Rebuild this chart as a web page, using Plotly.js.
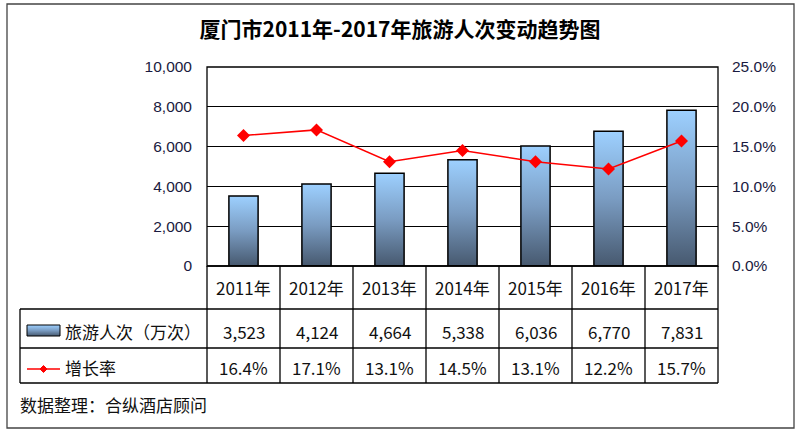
<!DOCTYPE html>
<html><head><meta charset="utf-8">
<script src="https://cdn.plot.ly/plotly-3.0.1.min.js"></script>
<style>html,body{margin:0;padding:0;background:#fff}#chart{width:800px;height:434px}</style>
</head><body><div id="chart"></div>
<script>
const years = ['2011年','2012年','2013年','2014年','2015年','2016年','2017年'];
const visitors = [3523, 4124, 4664, 5338, 6036, 6770, 7831];
const growth = [0.164, 0.171, 0.131, 0.145, 0.131, 0.122, 0.157];
const seriesNames = ['旅游人次（万次）', '增长率'];
const titleText = '厦门市2011年-2017年旅游人次变动趋势图';
const sourceText = '数据整理：合纵酒店顾问';

const cjk = '"Microsoft YaHei","Noto Sans CJK SC",sans-serif';
const W = 800, H = 434, L = 207, R = 82, T = 67, B = 168;
const pw = W - L - R, ph = H - T - B;
const px = x => (x - L) / pw;          // pixel x -> paper
const py = y => (H - B - y) / ph;      // pixel y -> paper

const rowY = [266, 309, 348, 383];
const colL = 20, colR = 718;

const shapes = [];
const line = (x0,y0,x1,y1,w,c) => shapes.push({type:'line',xref:'paper',yref:'paper',x0:px(x0),y0:py(y0),x1:px(x1),y1:py(y1),line:{color:c||'#000',width:w||1.3}});
// outer frame
shapes.push({type:'rect',xref:'paper',yref:'paper',x0:px(7),y0:py(4),x1:px(794),y1:py(428),line:{color:'#444',width:1.3}});
// plot border
shapes.push({type:'rect',xref:'paper',yref:'paper',x0:0,y0:0,x1:1,y1:1,line:{color:'#000',width:1.3}});
// table horizontal lines
line(L, rowY[0], colR, rowY[0]);
line(colL, rowY[1], colR, rowY[1]);
line(colL, rowY[2], colR, rowY[2]);
line(colL, rowY[3], colR, rowY[3]);
// table vertical lines
line(colL, rowY[1], colL, rowY[3]);
for (let i = 0; i <= years.length; i++) {
  const x = L + i * pw / years.length;
  line(x, rowY[0], x, rowY[3]);
}
// legend keys
shapes.push({type:'rect',xref:'paper',yref:'paper',x0:px(27),y0:py(325),x1:px(60),y1:py(336),fillcolor:'#7593b3',line:{color:'#000',width:1},name:'legendbar'});
line(27, 369, 60, 369, 1.3, '#ff0000');
const dx = 3.5/pw, dy = 3.5/ph, cx = px(43.5), cy = py(369);
shapes.push({type:'path',xref:'paper',yref:'paper',path:`M ${cx-dx} ${cy} L ${cx} ${cy+dy} L ${cx+dx} ${cy} L ${cx} ${cy-dy} Z`,fillcolor:'#ff0000',line:{color:'#ff0000',width:1}});

const annotations = [];
const tFont = {family: cjk, size: 17, color: '#111'};
const rowC = [287, 331, 367];
years.forEach((yr, i) => {
  annotations.push({xref:'x',yref:'paper',x:yr,y:py(rowC[0]),yanchor:'middle',text:yr,showarrow:false,font:tFont});
  annotations.push({xref:'x',yref:'paper',x:yr,y:py(rowC[1]),yanchor:'middle',text:visitors[i].toLocaleString('en-US'),showarrow:false,font:tFont});
  annotations.push({xref:'x',yref:'paper',x:yr,y:py(rowC[2]),yanchor:'middle',text:(growth[i]*100).toFixed(1)+'%',showarrow:false,font:tFont});
});
annotations.push({xref:'paper',yref:'paper',x:px(63),y:py(rowC[1]),xanchor:'left',yanchor:'middle',text:seriesNames[0],showarrow:false,font:tFont});
annotations.push({xref:'paper',yref:'paper',x:px(63),y:py(rowC[2]),xanchor:'left',yanchor:'middle',text:seriesNames[1],showarrow:false,font:tFont});
annotations.push({xref:'paper',yref:'paper',x:px(18),y:py(404),xanchor:'left',yanchor:'middle',text:sourceText,showarrow:false,font:tFont});

const data = [
  {type:'bar', x: years, y: visitors, name: seriesNames[0], marker:{color:'#7593b3', line:{color:'#000', width:1.5}}, hoverinfo:'skip'},
  {type:'scatter', mode:'lines+markers', x: years, y: growth, yaxis:'y2', name: seriesNames[1],
   line:{color:'#ff0000', width:1.5}, marker:{symbol:'diamond', size:10, color:'#ff0000'}, hoverinfo:'skip'}
];

const tickFont = {family:'Arial, "Liberation Sans", sans-serif', size:15.5, color:'#1a1a40'};
const layout = {
  width: W, height: H,
  margin: {l: L, r: R, t: T, b: B},
  paper_bgcolor: '#fff', plot_bgcolor: '#fff',
  showlegend: false,
  bargap: 0.6,
  title: {text: '<b>' + titleText + '</b>', x: 0.5, xanchor:'center', y: 1 - 30/H, yanchor:'middle',
          font: {family: '"SimHei","Noto Sans CJK SC",sans-serif', size: 21, color: '#000'}},
  xaxis: {type:'category', showticklabels:false, showgrid:false, zeroline:false, ticks:'', fixedrange:true},
  yaxis: {range:[0,10000], dtick:2000, tickformat:',d', showgrid:true, gridcolor:'#000', gridwidth:1.2,
          zeroline:false, ticks:'', ticklabelstandoff: 14, tickfont: tickFont},
  yaxis2: {range:[0,0.25], dtick:0.05, tickformat:'.1%', overlaying:'y', side:'right', showgrid:false,
           zeroline:false, ticks:'', ticklabelstandoff: 13, tickfont: tickFont},
  shapes, annotations
};

Plotly.newPlot('chart', data, layout, {staticPlot:true}).then(gd => {
  const svg = gd.querySelector('.main-svg');
  const ns = 'http://www.w3.org/2000/svg';
  let defs = svg.querySelector('defs');
  if (!defs) { defs = document.createElementNS(ns,'defs'); svg.insertBefore(defs, svg.firstChild); }
  const g = document.createElementNS(ns,'linearGradient');
  g.setAttribute('id','barGrad'); g.setAttribute('x1','0'); g.setAttribute('y1','0'); g.setAttribute('x2','0'); g.setAttribute('y2','1');
  [['0%','#9dd0ff'],['50%','#7a9cc2'],['100%','#47596f']].forEach(([o,c]) => {
    const s = document.createElementNS(ns,'stop'); s.setAttribute('offset',o); s.setAttribute('stop-color',c); g.appendChild(s);
  });
  defs.appendChild(g);
  gd.querySelectorAll('.barlayer .point path').forEach(p => { p.style.fill = 'url(#barGrad)'; });
  gd.querySelectorAll('.shapelayer path').forEach(p => {
    if (p.getAttribute('data-index') === String(layout.shapes.findIndex(s => s.name === 'legendbar'))) p.style.fill = 'url(#barGrad)';
  });
});
</script>
</body></html>
